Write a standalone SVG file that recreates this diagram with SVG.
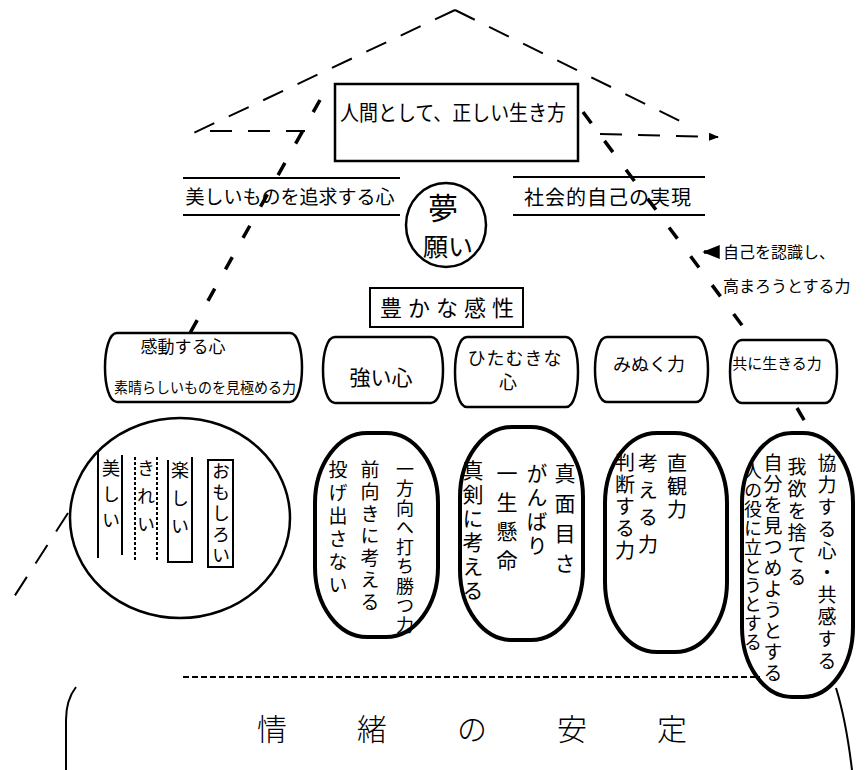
<svg xmlns="http://www.w3.org/2000/svg" width="867" height="770" viewBox="0 0 867 770">
<defs>
<marker id="ah" viewBox="0 0 10 10" refX="9" refY="5" markerWidth="5" markerHeight="5" orient="auto"><path d="M0,1 L10,5 L0,9 Z" fill="#000"/></marker>
<style>
text{font-family:"Noto Sans CJK JP","Noto Sans CJK SC",sans-serif;fill:#000}
.v{writing-mode:vertical-rl}
.thin{fill:none;stroke:#000;stroke-width:2;stroke-dasharray:22 16}
.thick{fill:none;stroke:#000;stroke-width:3.5;stroke-dasharray:14 22}
.box{fill:none;stroke:#000;stroke-width:2.5}
.oval{fill:none;stroke:#000;stroke-width:4}
.ln{fill:none;stroke:#000;stroke-width:2}
</style>
</defs>
<rect width="867" height="770" fill="#fff"/>
<g id="connectors">
<path class="thin" d="M455,10 L185,137"/>
<path class="thin" d="M455,10 L690,126"/>
<path class="thin" d="M210,131 L305,131"/>
<path class="thin" d="M600,134 L718,137" marker-end="url(#ah)"/>
<path class="thick" d="M320,100 L190,333"/>
<path class="thick" d="M583,112 L750,336"/>
<path class="thin" d="M68,513 L12,600" stroke-dasharray="16 14"/>
<path class="thick" d="M797,408 L810,430" stroke-dasharray="14 40"/>
<path d="M719,252 L704,252" fill="none" stroke="#000" stroke-width="3.5" marker-end="url(#ah)"/>
</g>
<g id="top-box">
<rect class="box" x="335" y="84" width="243" height="77"/>
<text x="340" y="120" font-size="21" textLength="226" lengthAdjust="spacingAndGlyphs">人間として、正しい生き方</text>
</g>
<g id="beauty">
<path class="ln" d="M183,178 H400 M183,215 H400"/>
<text x="290" y="204" font-size="19" text-anchor="middle">美しいものを追求する心</text>
</g>
<g id="social">
<path class="ln" d="M513,177 H705 M513,215 H705"/>
<text x="608" y="205" font-size="20" text-anchor="middle" letter-spacing="1">社会的自己の実現</text>
</g>
<g id="dream">
<ellipse class="box" cx="446" cy="225" rx="40" ry="42"/>
<text x="443" y="219" font-size="30" text-anchor="middle">夢</text>
<text x="448" y="256" font-size="25" text-anchor="middle">願い</text>
</g>
<g id="self-label">
<text x="723" y="258" font-size="16">自己を認識し、</text>
<text x="723" y="292" font-size="16">高まろうとする力</text>
</g>
<g id="sensitivity">
<rect class="ln" x="370" y="288" width="153" height="39"/>
<text x="450" y="316" font-size="22" text-anchor="middle" letter-spacing="6">豊かな感性</text>
</g>
<g id="n-kando">
<path class="box" d="M117,333 H290 C306,333 306,402 290,402 H117 C101,402 101,333 117,333 Z"/>
<text x="183" y="353" font-size="17" text-anchor="middle">感動する心</text>
<text x="205" y="393" font-size="15" text-anchor="middle" textLength="182" lengthAdjust="spacingAndGlyphs">素晴らしいものを見極める力</text>
</g>
<g id="n-tsuyoi">
<path class="box" d="M335,337 H431 C447,337 447,403 431,403 H335 C319,403 319,337 335,337 Z"/>
<text x="381" y="385" font-size="21" text-anchor="middle">強い心</text>
</g>
<g id="n-hitamuki">
<path class="box" d="M467,337 H566 C582,337 582,407 566,407 H467 C451,407 451,337 467,337 Z"/>
<text x="515" y="365" font-size="18" text-anchor="middle" letter-spacing="1">ひたむきな</text>
<text x="508" y="389" font-size="18" text-anchor="middle">心</text>
</g>
<g id="n-minuku">
<path class="box" d="M607,337 H696 C712,337 712,402 696,402 H607 C591,402 591,337 607,337 Z"/>
<text x="649" y="371" font-size="18" text-anchor="middle">みぬく力</text>
</g>
<g id="n-tomoni">
<path class="box" d="M742,340 H825 C841,340 841,403 825,403 H742 C726,403 726,340 742,340 Z"/>
<text x="777" y="369" font-size="15" text-anchor="middle">共に生きる力</text>
</g>
<g id="c-kando">
<ellipse class="box" cx="180" cy="518" rx="110" ry="100" stroke-width="3"/>
<path class="ln" d="M98,452 V558 M122,455 V555"/>
<path class="ln" d="M135,457 V560 M157,457 V560" stroke-dasharray="3 2"/>
<path class="ln" d="M168,460 V562 H192 V457"/>
<rect class="ln" x="208" y="460" width="25" height="107"/>
<text class="v" x="111" y="459" font-size="18" letter-spacing="8">美しい</text>
<text class="v" x="146" y="459" font-size="18" letter-spacing="10">きれい</text>
<text class="v" x="180" y="461" font-size="18" letter-spacing="10">楽しい</text>
<text class="v" x="221" y="462" font-size="18" letter-spacing="3">おもしろい</text>
</g>
<g id="c-tsuyoi">
<rect class="oval" x="315" y="433" width="123" height="204" rx="52" ry="70"/>
<text class="v" x="405" y="460" font-size="18" letter-spacing="1.5">一方向へ打ち勝つ力</text>
<text class="v" x="370" y="460" font-size="19" letter-spacing="3">前向きに考える</text>
<text class="v" x="338" y="460" font-size="19" letter-spacing="4">投げ出さない</text>
</g>
<g id="c-hitamuki">
<rect class="oval" x="460" y="427" width="123" height="213" rx="52" ry="70"/>
<text class="v" x="565" y="463" font-size="21" letter-spacing="9">真面目さ</text>
<text class="v" x="537" y="463" font-size="21" letter-spacing="3">がんばり</text>
<text class="v" x="507" y="463" font-size="21" letter-spacing="8">一生懸命</text>
<text class="v" x="473" y="460" font-size="21" letter-spacing="3">真剣に考える</text>
</g>
<g id="c-minuku">
<rect class="oval" x="605" y="433" width="122" height="219" rx="52" ry="70"/>
<text class="v" x="677" y="453" font-size="20" letter-spacing="3">直観力</text>
<text class="v" x="648" y="453" font-size="20" letter-spacing="7">考える力</text>
<text class="v" x="625" y="452" font-size="20" letter-spacing="2">判断する力</text>
</g>
<g id="c-tomoni">
<rect class="oval" x="742" y="433" width="111" height="264" rx="50" ry="70"/>
<text class="v" x="827" y="453" font-size="19" letter-spacing="3">協力する心・共感する</text>
<text class="v" x="797" y="457" font-size="19" letter-spacing="3">我欲を捨てる</text>
<text class="v" x="773" y="453" font-size="19" letter-spacing="2">自分を見つめようとする</text>
<text class="v" x="753" y="462" font-size="18" letter-spacing="1">人の役に立とうとする</text>
</g>
<g id="base">
<path class="ln" d="M183,677 H760" stroke-dasharray="6 3" stroke-width="1.5"/>
<path class="ln" d="M76,687 Q66,700 66,720 V770" stroke-width="1.5"/>
<path class="ln" d="M836,688 Q846,720 852,770" stroke-width="1.5"/>
<text x="257" y="740" font-size="30" font-weight="300" letter-spacing="70">情緒の安定</text>
</g>
</svg>
